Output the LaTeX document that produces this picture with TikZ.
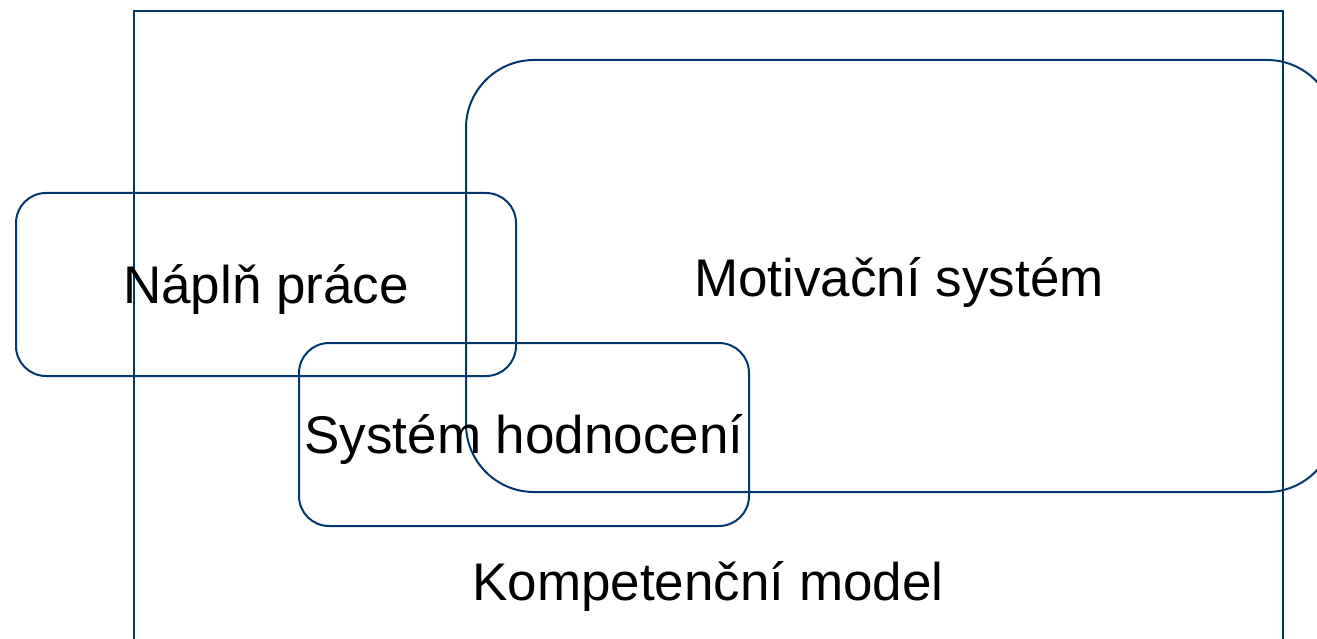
\documentclass[tikz,border=0pt]{standalone}
\usepackage{fontspec}
\setmainfont{Liberation Sans}
\definecolor{navy}{RGB}{0,56,110}
\begin{document}
\begin{tikzpicture}[x=1pt,y=-1pt,
  frame/.style={draw=navy,line width=2pt,inner sep=0pt},
  area/.style={frame,rounded corners=#1},
  lbl/.style={font=\fontsize{53}{64}\selectfont,text=black,inner sep=0pt,anchor=base}]
\useasboundingbox (0,0) rectangle (1317,639);
\clip (0,0) rectangle (1317,639);
% outer frame of the competence model
\node[frame,minimum width=1149pt,minimum height=700pt,anchor=north west] (model) at (133,10) {};
% motivation system (runs past the right edge)
\node[area=68pt,minimum width=869pt,minimum height=432pt] (motiv) at (900.5,276) {};
\node[lbl] (motivtxt) at (899,296) {Motivační systém};
% job content
\node[area=30pt,minimum width=500pt,minimum height=183pt] (napln) at (266,284.5) {};
\node[lbl] (nanplntxt) at (266,303) {Náplň práce};
% appraisal system
\node[area=30pt,minimum width=450pt,minimum height=183pt] (hodn) at (524,434.5) {};
\node[lbl] (hodntxt) at (524,453) {Systém hodnocení};
% caption of the outer frame
\node[lbl] (modeltxt) at (708,600) {Kompetenční model};
\end{tikzpicture}
\end{document}
